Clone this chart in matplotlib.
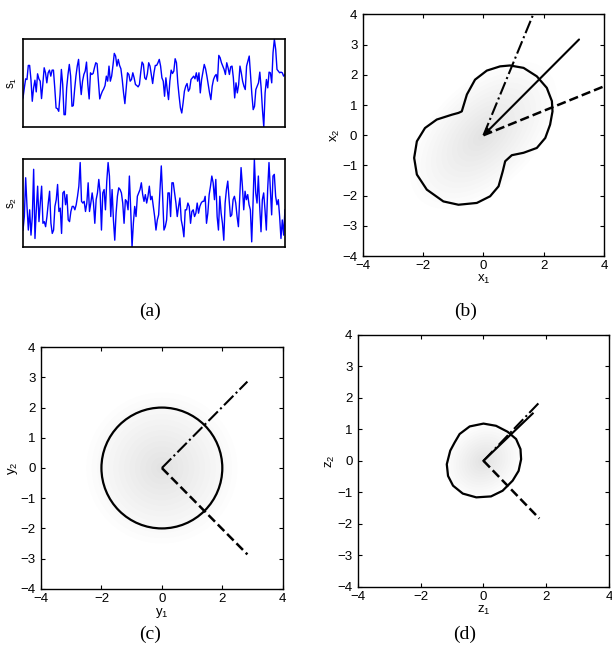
import numpy as np
import matplotlib
matplotlib.use('Agg')
import matplotlib.pyplot as plt
from matplotlib.patches import Circle, Ellipse, Polygon

plt.rcParams['font.family'] = ['Liberation Sans', 'DejaVu Sans']
plt.rcParams['mathtext.fontset'] = 'custom'
plt.rcParams['mathtext.rm'] = 'Liberation Sans'
plt.rcParams['mathtext.it'] = 'Liberation Sans'

# source signals (arbitrary units)
s1 = [-45, -15, 12, 10, 52, 52, 10, -55, -15, 8, -27, 27, 12, 5, -47, -3, 45, 30, 0, 30,
      38, 20, 38, 38, -15, -75, -77, -85, -35, 40, -5, -95, -95, -15, 25, 55, 20, -70, -68, -20,
      20, 50, 70, 10, -35, 5, 25, 35, 62, -5, -48, 30, 25, 28, 45, 60, 57, 5, -48, -35,
      -25, -18, -8, 20, 5, 50, 5, 20, 52, 88, 80, 50, 70, 52, 42, 10, -30, -62, -15, 30,
      25, 5, 10, 30, 15, -5, -8, -12, -5, 32, 62, 55, 15, 10, 27, 60, 50, 25, -2, 30,
      52, 52, 60, 70, 50, 15, 5, -40, 15, -20, -50, 5, 38, 28, 35, 72, 60, 0, -40, -75,
      -90, -60, -25, -10, -2, -25, -18, 10, 15, 20, 12, 30, 5, 30, -30, 10, 32, 55, 42, 20,
      -5, -30, -50, -10, 10, 20, 25, 5, 82, 75, 60, 50, 40, 25, 60, 45, 25, 48, 50, 15,
      -45, 0, -30, -5, 50, 30, 5, -10, -20, 50, 65, 80, 20, -35, -80, -70, -20, -10, 0, 32,
      -15, -80, -132, -30, 10, -15, 32, 30, 0, 90, 130, 100, 40, 35, 30, 32, 30, 20, 25]
s2 = [-80, -40, 75, -10, -80, -20, -95, -40, 100, -105, -20, 50, -55, 0, 50, -60, -55, -70, -40, 0,
      35, -60, -90, -80, -10, 10, 55, -25, -15, -90, 30, 35, -5, 25, -50, -55, -25, -10, -10, -20,
      -5, 20, 50, 120, 5, 0, 5, -25, 0, 60, -25, 0, 30, 0, -60, 10, 30, 70, 30, -80,
      30, 40, -20, 65, 120, 80, -40, 40, -50, -110, -30, 20, 45, 40, 30, 0, -60, 10, 5, -20,
      80, -20, -130, -60, -10, -40, 20, 30, 40, 60, 25, 5, 25, 0, 20, 50, 10, 20, -10, -40,
      -80, -50, -35, 40, 110, 20, -80, -70, -50, 30, 30, -40, 60, 60, 30, 0, -40, -10, 15, -50,
      -70, -100, -20, -20, 0, -10, -60, -25, -20, -40, -30, 0, -30, -10, 0, 5, 5, 20, -60, -30,
      25, 50, 80, 60, 10, 70, -40, -80, 20, -30, -60, -110, 0, 40, 65, 10, -40, -35, 10, 20,
      0, -40, -70, 20, 105, 50, -20, 35, 10, 25, -5, -20, -115, 0, 130, 30, 0, 80, -10, -85,
      10, 30, -20, -80, 40, 120, 40, -35, 80, 85, 20, -5, 10, -40, -105, -50, -95, -20]

# contour of the mixed density (b)
peanut_x = [-0.72, -0.55, -0.28, 0.11, 0.55, 0.88, 1.33, 1.77, 2.10, 2.27, 2.29, 2.21, 2.05, 1.77,
            1.33, 0.94, 0.72, 0.64, 0.50, 0.22, -0.22, -0.83, -1.33, -1.88, -2.21, -2.30, -2.21,
            -1.94, -1.55, -1.05, -0.83]
peanut_y = [0.79, 1.35, 1.84, 2.14, 2.28, 2.31, 2.23, 1.95, 1.57, 1.13, 0.79, 0.35, -0.09, -0.42,
            -0.58, -0.66, -0.86, -1.19, -1.69, -2.02, -2.24, -2.30, -2.19, -1.80, -1.30, -0.75, -0.20,
            0.24, 0.52, 0.68, 0.74]
b_solid = (3.17, 3.17)
b_dashdot = (1.65, 4.0)
b_dashed = (4.0, 1.62)

# whitened (c)
c_radius = 2.0
c_dashdot = (2.83, 2.86)
c_dashed = (2.83, -2.86)

# contour (d)
blob_x = [-0.76, -0.44, 0.0, 0.40, 0.77, 1.04, 1.18, 1.20, 1.12, 0.93, 0.61, 0.24, -0.23, -0.66,
          -0.97, -1.13, -1.17, -1.06, -0.92]
blob_y = [0.85, 1.09, 1.18, 1.11, 0.92, 0.69, 0.37, 0.05, -0.32, -0.63, -0.95, -1.13, -1.16, -1.04,
          -0.79, -0.48, -0.11, 0.32, 0.58]
d_solid = (1.57, 1.50)
d_dashdot = (1.75, 1.82)
d_dashed = (1.78, -1.83)

# cloud spread: (half width, half height, angle)
cloud_b = (3.0, 1.7, 45)
cloud_c = (2.5, 2.5, 0)
cloud_d = (1.3, 1.1, 40)

ticks = [-4, -2, 0, 2, 4]
yticks = [-4, -3, -2, -1, 0, 1, 2, 3, 4]


def cloud(ax, spec, n=14):
    a, b, ang = spec
    for k in range(n):
        f = (k + 1) / n
        ax.add_patch(Ellipse((0, 0), 2*a*f, 2*b*f, angle=ang, color='0.6', alpha=0.016, lw=0, zorder=0))


def square_axes(ax, xl, yl):
    ax.set_xlim(-4, 4)
    ax.set_ylim(-4, 4)
    ax.set_xticks(ticks)
    ax.set_yticks(yticks)
    ax.set_xticklabels([str(t).replace('-', '\u2212') for t in ticks])
    ax.set_yticklabels([str(t).replace('-', '\u2212') for t in yticks])
    ax.tick_params(direction='in', top=True, right=True, labelsize=9.5, length=3)
    ax.tick_params(axis='x', pad=3)
    ax.tick_params(axis='y', pad=4)
    ax.set_xlabel(xl, fontsize=9.5, labelpad=0.5)
    ax.set_ylabel(yl, fontsize=9.5, labelpad=0)
    for sp in ax.spines.values():
        sp.set_linewidth(1.0)


fig = plt.figure(figsize=(6.12, 6.55), dpi=100)

# (a)
for sig, pos, lab in [(s1, [0.0376, 0.806, 0.428, 0.134], r'$\mathregular{s_1}$'),
                      (s2, [0.0376, 0.623, 0.428, 0.134], r'$\mathregular{s_2}$')]:
    ax = fig.add_axes(pos)
    ax.plot(np.arange(len(sig)), sig, color='#0000ff', lw=1.0)
    ax.set_xlim(0, len(sig) - 1)
    ax.set_ylim(min(sig), max(sig))
    ax.set_xticks([])
    ax.set_yticks([])
    ax.set_ylabel(lab, fontsize=8.5, labelpad=3)
    for sp in ax.spines.values():
        sp.set_linewidth(1.2)

# (b)
ax = fig.add_axes([0.593, 0.609, 0.394, 0.369])
cloud(ax, cloud_b)
ax.add_patch(Polygon(np.column_stack([peanut_x, peanut_y]), closed=True, fill=False, lw=1.6,
                     ec='k', joinstyle='round'))
ax.annotate('', xy=(0, 0), xytext=b_solid,
            arrowprops=dict(arrowstyle='-|>', lw=1.5, color='k', mutation_scale=9, shrinkA=0, shrinkB=0))
ax.plot([0, b_dashdot[0]], [0, b_dashdot[1]], 'k-.', lw=1.5)
ax.plot([0, b_dashed[0]], [0, b_dashed[1]], 'k--', lw=1.8)
square_axes(ax, r'$\mathregular{x_1}$', r'$\mathregular{x_2}$')

# (c)
ax = fig.add_axes([0.067, 0.101, 0.395, 0.369])
cloud(ax, cloud_c)
ax.add_patch(Circle((0, 0), c_radius, fill=False, lw=1.6, ec='k'))
ax.plot([0, c_dashdot[0]], [0, c_dashdot[1]], 'k-.', lw=1.5)
ax.plot([0, c_dashed[0]], [0, c_dashed[1]], 'k--', lw=1.8)
square_axes(ax, r'$\mathregular{y_1}$', r'$\mathregular{y_2}$')

# (d)
ax = fig.add_axes([0.585, 0.104, 0.410, 0.385])
cloud(ax, cloud_d)
ax.add_patch(Polygon(np.column_stack([blob_x, blob_y]), closed=True, fill=False, lw=1.6,
                     ec='k', joinstyle='round'))
ax.plot([0, d_dashdot[0]], [0, d_dashdot[1]], 'k-.', lw=1.5)
ax.plot([0, d_solid[0]], [0, d_solid[1]], 'k-', lw=1.5)
ax.plot([0, d_dashed[0]], [0, d_dashed[1]], 'k--', lw=1.8)
square_axes(ax, r'$\mathregular{z_1}$', r'$\mathregular{z_2}$')

for x, y, t in [(0.245, 0.524, '(a)'), (0.76, 0.524, '(b)'), (0.245, 0.032, '(c)'), (0.76, 0.032, '(d)')]:
    fig.text(x, y, t, ha='center', va='center', family='Liberation Serif', fontsize=14)

fig.savefig('out.png', dpi=100)
